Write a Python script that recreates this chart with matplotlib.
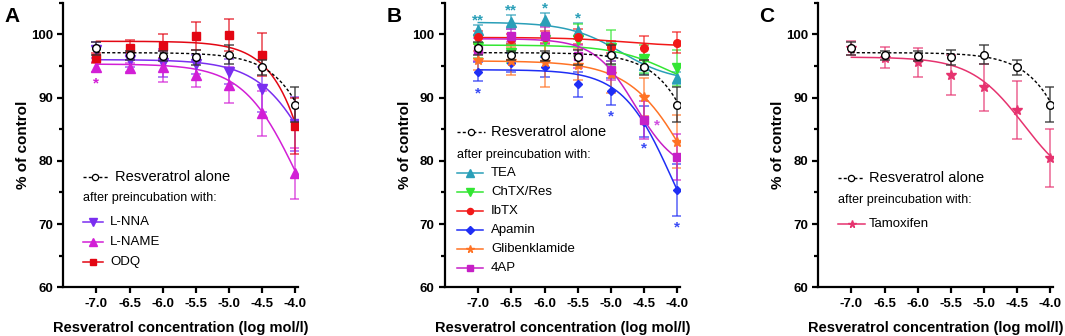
import numpy as np
import matplotlib
matplotlib.use("Agg")
import matplotlib.pyplot as plt

plt.rcParams['font.family'] = ['Liberation Sans', 'DejaVu Sans']

# ---------------- data ----------------
conc = [-7.0, -6.5, -6.0, -5.5, -5.0, -4.5, -4.0]
xtick_labels = ["-7.0", "-6.5", "-6.0", "-5.5", "-5.0", "-4.5", "-4.0"]
yticks = [60, 70, 80, 90, 100]

resv_mean = [97.8, 96.7, 96.6, 96.4, 96.8, 94.8, 88.9]
resv_err = [1.0, 0.7, 0.8, 1.2, 1.5, 1.2, 2.8]
resv_fit = [97.1, 0.0, -3.046, 1.11]      # top, bottom, logEC50, hill

lnna_mean = [97.5, 95.9, 95.5, 95.3, 94.1, 91.3, 85.8]
lnna_err = [1.3, 1.0, 2.2, 1.5, 2.0, 3.6, 4.3]
lnna_fit = [96.0, 60.0, -3.6, 1.0]

lname_mean = [94.9, 94.7, 94.9, 93.6, 92.0, 87.5, 78.0]
lname_err = [0.8, 0.7, 2.5, 2.0, 2.9, 3.5, 4.0]
lname_fit = [95.3, 60.0, -3.97, 1.06]

odq_mean = [96.2, 97.8, 98.2, 99.7, 99.9, 96.8, 85.5]
odq_err = [0.8, 1.3, 1.9, 2.2, 2.6, 3.4, 4.5]
odq_fit = [98.9, 0.0, -3.313, 1.19]

tea_mean = [100.7, 101.9, 102.3, 100.5, 97.3, 95.1, 93.1]
tea_err = [0.8, 1.1, 1.0, 1.3, 1.5, 1.3, 1.0]
tea_fit = [101.9, 92.5, -4.85, 1.1]

chtx_mean = [98.0, 97.0, 99.1, 99.1, 97.9, 96.1, 94.7]
chtx_err = [1.8, 1.5, 2.5, 2.5, 2.8, 2.2, 2.8]
chtx_fit = [98.3, 90.0, -4.1, 1.0]

ibtx_mean = [99.5, 99.2, 99.6, 99.6, 98.0, 97.9, 98.7]
ibtx_err = [1.0, 0.8, 1.0, 1.2, 1.0, 1.9, 1.7]
ibtx_fit = [99.5, 98.1, -4.8, 1.0]

apamin_mean = [94.1, 95.5, 94.8, 92.1, 91.0, 86.2, 75.4]
apamin_err = [1.5, 1.5, 1.6, 2.0, 2.1, 2.4, 4.1]
apamin_fit = [94.4, 60.0, -4.08, 1.16]

glib_mean = [95.9, 95.8, 95.6, 95.2, 93.8, 90.1, 83.0]
glib_err = [1.5, 2.2, 4.0, 2.5, 3.0, 3.0, 4.2]
glib_fit = [95.8, 60.0, -3.73, 0.94]

ap4_mean = [97.6, 99.8, 99.8, 96.5, 94.3, 86.4, 80.6]
ap4_err = [1.8, 1.0, 1.3, 1.8, 1.5, 3.0, 3.6]
ap4_fit = [99.3, 78.0, -4.63, 1.4]

tam_mean = [97.9, 96.3, 95.6, 93.6, 91.6, 88.0, 80.5]
tam_err = [1.1, 1.7, 2.3, 3.2, 3.7, 4.6, 4.6]
tam_fit = [96.4, 75.0, -4.40, 1.09]

# significance marks: (series, point index, placement, text)
sig_A = [("L-NAME", 0, "below", "*")]
sig_B = [("TEA", 0, "above", "**"), ("TEA", 1, "above", "**"), ("TEA", 2, "above", "*"),
         ("TEA", 3, "above", "*"), ("Apamin", 0, "below", "*"), ("Apamin", 4, "below", "*"),
         ("Apamin", 5, "below", "*"), ("Apamin", 6, "below", "*"), ("4AP", 5, "right", "*")]

# ---------------- styles ----------------
resv_ls = (0, (2.2, 1.6))
series = {
    "L-NNA": dict(mean=lnna_mean, err=lnna_err, fit=lnna_fit, color="#7a2ef0", marker="v", ms=6.5),
    "L-NAME": dict(mean=lname_mean, err=lname_err, fit=lname_fit, color="#d21fd6", marker="^", ms=6.5),
    "ODQ": dict(mean=odq_mean, err=odq_err, fit=odq_fit, color="#e30613", marker="s", ms=5.5),
    "TEA": dict(mean=tea_mean, err=tea_err, fit=tea_fit, color="#2a9fb8", marker="^", ms=6.5),
    "ChTX/Res": dict(mean=chtx_mean, err=chtx_err, fit=chtx_fit, color="#33e633", marker="v", ms=6.5),
    "IbTX": dict(mean=ibtx_mean, err=ibtx_err, fit=ibtx_fit, color="#f21818", marker="o", ms=5.5),
    "Apamin": dict(mean=apamin_mean, err=apamin_err, fit=apamin_fit, color="#1f2ef5", marker="D", ms=4.5),
    "Glibenklamide": dict(mean=glib_mean, err=glib_err, fit=glib_fit, color="#ff7325", marker="*", ms=7),
    "4AP": dict(mean=ap4_mean, err=ap4_err, fit=ap4_fit, color="#c61fc6", marker="s", ms=5.5),
    "Tamoxifen": dict(mean=tam_mean, err=tam_err, fit=tam_fit, color="#e6336f", marker="*", ms=7),
}
sig_colors = {"L-NAME": "#d21fd6", "TEA": "#2a9fb8", "Apamin": "#3a4cf5", "4AP": "#d050e0"}

panels = [
    ("A", ["L-NNA", "L-NAME", "ODQ"], sig_A),
    ("B", ["TEA", "ChTX/Res", "IbTX", "Apamin", "Glibenklamide", "4AP"], sig_B),
    ("C", ["Tamoxifen"], []),
]

W, H = 1065, 336
fig = plt.figure(figsize=(W / 100, H / 100), dpi=100)

ax_left_px = [63.3, 445.1, 818.2]
ax_w_px = 234.8
ax_bottom_px = 287.3
ax_top_px = 2.7

# legend layout (axes fraction)
legend_layout = {
    "A": dict(x0=0.084, x1=0.19, xt=0.219, yr=0.388, ya=0.314, x1e=0.17, xte=0.20,
              ys=[0.229, 0.159, 0.089]),
    "B": dict(x0=0.049, x1=0.17, xt=0.195, yr=0.545, ya=0.465, x1e=0.161, xte=0.195,
              ys=[0.402, 0.335, 0.268, 0.201, 0.135, 0.068]),
    "C": dict(x0=0.085, x1=0.192, xt=0.217, yr=0.384, ya=0.307, x1e=0.2, xte=0.217,
              ys=[0.222]),
}


def logistic(x, p):
    top, bottom, ec, h = p
    return bottom + (top - bottom) / (1.0 + 10 ** ((x - ec) * h))


xfit = np.linspace(conc[0], conc[-1], 300)

for i, (letter, names, sigs) in enumerate(panels):
    ax = fig.add_axes([ax_left_px[i] / W, (H - ax_bottom_px) / H,
                       ax_w_px / W, (ax_bottom_px - ax_top_px) / H])
    ax.set_xlim(-7.5, -3.96)
    ax.set_ylim(60, 105)
    for s in ["top", "right"]:
        ax.spines[s].set_visible(False)
    for s in ["left", "bottom"]:
        ax.spines[s].set_linewidth(1.6)
    ax.set_xticks(conc)
    ax.set_xticklabels(xtick_labels)
    ax.set_yticks(yticks)
    ax.set_yticks([65, 75, 85, 95, 105], minor=True)
    ax.tick_params(axis="both", which="major", length=4.5, width=1.6, labelsize=9.5, pad=3)
    ax.tick_params(axis="y", which="minor", length=3, width=1.6)
    for lab in ax.get_xticklabels() + ax.get_yticklabels():
        lab.set_fontweight("bold")
    ax.set_xlabel("Resveratrol concentration (log mol/l)", fontsize=10.5, fontweight="bold", labelpad=8)
    ax.set_ylabel("% of control", fontsize=11, fontweight="bold", labelpad=0.5)
    ax.text(-0.25, 0.985, letter, transform=ax.transAxes, fontsize=15, fontweight="bold",
            ha="left", va="top")

    # treated series
    for name in names:
        st = series[name]
        c = st["color"]
        ax.errorbar(conc, st["mean"], yerr=st["err"], fmt="none", ecolor=c, alpha=0.75,
                    elinewidth=1.1, capsize=3.5, capthick=1.1, zorder=2)
        ax.plot(xfit, logistic(xfit, st["fit"]), color=c, lw=1.1, zorder=3)
        ax.plot(conc, st["mean"], ls="none", marker=st["marker"], ms=st["ms"], color=c,
                mec=c, zorder=4)

    # resveratrol alone
    ax.errorbar(conc, resv_mean, yerr=resv_err, fmt="none", ecolor="#333333", alpha=0.85,
                elinewidth=1.1, capsize=3.5, capthick=1.1, zorder=5)
    ax.plot(xfit, logistic(xfit, resv_fit), color="black", lw=1.0, ls=resv_ls, zorder=5)
    ax.plot(conc, resv_mean, ls="none", marker="o", ms=5.5, mfc="white", mec="black",
            mew=1.0, zorder=6)

    # significance marks
    for name, idx, where, txt in sigs:
        st = series[name]
        m, e = st["mean"][idx], st["err"][idx]
        if where == "above":
            xy, off, ha = (conc[idx], m + e), (0, 0.5), "center"
        elif where == "below":
            xy, off, ha = (conc[idx], m - e), (0, -11.5), "center"
        else:
            xy, off, ha = (conc[idx], m), (7, -6.4), "left"
        ax.annotate(txt, xy=xy, xytext=off, textcoords="offset points", ha=ha, va="baseline",
                    fontsize=11, fontweight="bold", color=sig_colors[name], zorder=7)

    # legend drawn manually
    L = legend_layout[letter]
    tr = ax.transAxes
    ax.plot([L["x0"], L["x1"]], [L["yr"], L["yr"]], transform=tr, color="black", lw=1.0,
            ls=resv_ls, clip_on=False)
    ax.plot([(L["x0"] + L["x1"]) / 2], [L["yr"]], transform=tr, marker="o", ms=4.5, mfc="white",
            mec="black", mew=0.9, clip_on=False)
    ax.text(L["xt"], L["yr"], "Resveratrol alone", transform=tr, fontsize=10.5, va="center",
            ha="left")
    ax.text(L["x0"], L["ya"], "after preincubation with:", transform=tr, fontsize=9, va="center",
            ha="left")
    for name, yy in zip(names, L["ys"]):
        st = series[name]
        ax.plot([L["x0"], L["x1e"]], [yy, yy], transform=tr, color=st["color"], lw=1.1,
                clip_on=False)
        ax.plot([(L["x0"] + L["x1e"]) / 2], [yy], transform=tr, marker=st["marker"],
                ms=st["ms"] * 0.8, color=st["color"], clip_on=False)
        ax.text(L["xte"], yy, name, transform=tr, fontsize=9.5, va="center", ha="left")

fig.savefig("out.png", dpi=100)
